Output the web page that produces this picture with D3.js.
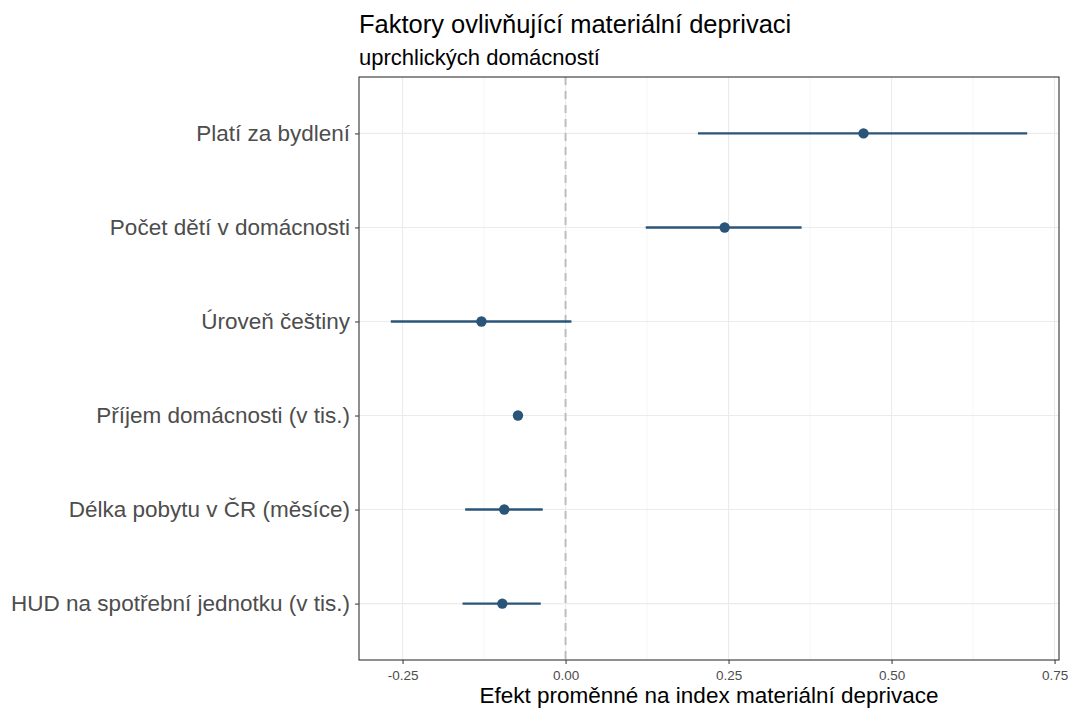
<!DOCTYPE html>
<html><head><meta charset="utf-8">
<script src="https://cdn.jsdelivr.net/npm/d3@7"></script>
<style>body{margin:0;background:#fff}svg text{font-family:"Liberation Sans",Arial,sans-serif}</style>
</head><body><svg id="c" width="1069" height="711"></svg>
<script>
const categories = ["Platí za bydlení","Počet dětí v domácnosti","Úroveň češtiny","Příjem domácnosti (v tis.)","Délka pobytu v ČR (měsíce)","HUD na spotřební jednotku (v tis.)"];
const estimates = [0.457, 0.244, -0.129, -0.073, -0.094, -0.097];
const lower = [0.203, 0.123, -0.268, -0.079, -0.154, -0.158];
const upper = [0.708, 0.362, 0.009, -0.067, -0.035, -0.038];
const xTicks = [-0.25, 0, 0.25, 0.5, 0.75];
const xMinor = [-0.125, 0.125, 0.375, 0.625];
const xTickLabels = ["-0.25","0.00","0.25","0.50","0.75"];
const title = "Faktory ovlivňující materiální deprivaci";
const subtitle = "uprchlických domácností";
const xTitle = "Efekt proměnné na index materiální deprivace";

const svg = d3.select("#c");
const L=359, R=1059, T=77, B=660;
const lo = d3.min(lower), hi = d3.max(upper), sp = hi-lo;
const x = d3.scaleLinear().domain([lo-0.05*sp, hi+0.05*sp]).range([L,R]);
const y = d3.scalePoint().domain(categories).range([T,B]).padding(0.6);

const g = svg.append("g");
g.selectAll(".mn").data(xMinor).join("line").attr("x1",d=>x(d)).attr("x2",d=>x(d)).attr("y1",T).attr("y2",B).attr("stroke","#F2F2F2").attr("stroke-width",0.8);
g.selectAll(".mj").data(xTicks).join("line").attr("x1",d=>x(d)).attr("x2",d=>x(d)).attr("y1",T).attr("y2",B).attr("stroke","#EBEBEB").attr("stroke-width",1.1);
g.selectAll(".hy").data(categories).join("line").attr("x1",L).attr("x2",R).attr("y1",d=>y(d)).attr("y2",d=>y(d)).attr("stroke","#EBEBEB").attr("stroke-width",1.1);
g.append("line").attr("x1",x(0)).attr("x2",x(0)).attr("y1",T).attr("y2",B).attr("stroke","#BEBEBE").attr("stroke-width",2).attr("stroke-dasharray","8,6");
const col="#2A5578";
g.selectAll(".eb").data(categories).join("line").attr("x1",(d,i)=>x(lower[i])).attr("x2",(d,i)=>x(upper[i])).attr("y1",d=>y(d)).attr("y2",d=>y(d)).attr("stroke",col).attr("stroke-width",2.4);
g.selectAll(".pt").data(categories).join("circle").attr("cx",(d,i)=>x(estimates[i])).attr("cy",d=>y(d)).attr("r",5.2).attr("fill",col);
g.append("rect").attr("x",L).attr("y",T).attr("width",R-L).attr("height",B-T).attr("fill","none").attr("stroke","#333").attr("stroke-width",1.1);
const xa = svg.append("g").attr("transform",`translate(0,${B})`).call(d3.axisBottom(x).tickValues(xTicks).tickFormat((d,i)=>xTickLabels[i]).tickSize(4).tickPadding(6));
xa.select(".domain").remove();
xa.selectAll("line").attr("stroke","#333");
xa.selectAll("text").attr("fill","#4D4D4D").style("font-size","13.5px");
const ya = svg.append("g").attr("transform",`translate(${L},0)`).call(d3.axisLeft(y).tickSize(4).tickPadding(5));
ya.select(".domain").remove();
ya.selectAll("line").attr("stroke","#333");
ya.selectAll("text").attr("fill","#4D4D4D").style("font-size","22.5px");
svg.append("text").attr("x",359).attr("y",33).text(title).style("font-size","25.5px").attr("fill","#000");
svg.append("text").attr("x",359).attr("y",65).text(subtitle).style("font-size","22px").attr("fill","#000");
svg.append("text").attr("x",(L+R)/2).attr("y",703).attr("text-anchor","middle").text(xTitle).style("font-size","22.5px").attr("fill","#000");
</script></body></html>
